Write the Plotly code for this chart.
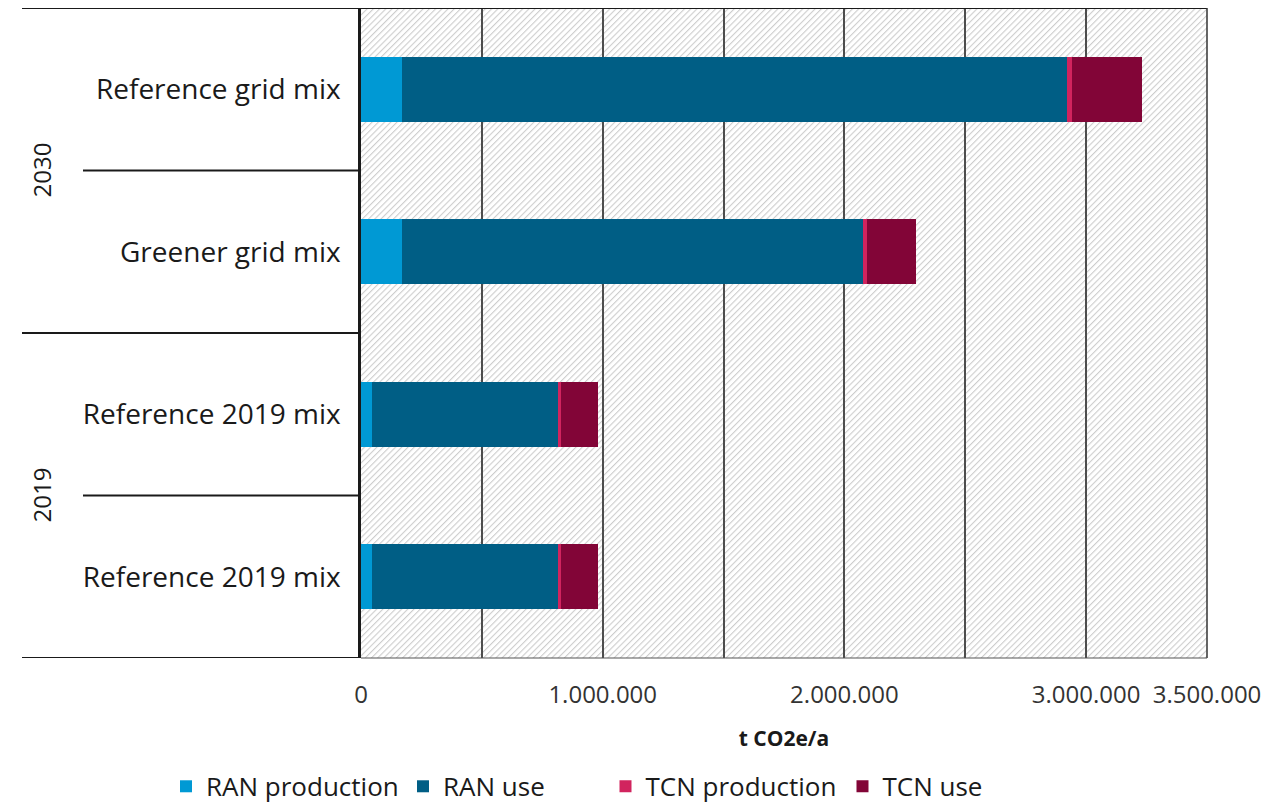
import base64
import plotly.graph_objects as go

# Emissions per scenario, t CO2e/a
years = ["2030", "2030", "2019", "2019"]
scenarios = ["Reference grid mix", "Greener grid mix", "Reference 2019 mix", "Reference 2019 mix"]
ran_production = [170000, 170000, 45000, 45000]
ran_use = [2751000, 1908000, 770000, 770000]
tcn_production = [21000, 15000, 11000, 11000]
tcn_use = [287000, 202000, 156000, 156000]

series_names = ["RAN production", "RAN use", "TCN production", "TCN use"]
series_colors = ["#0099D4", "#005E85", "#D1245E", "#820537"]
series_legends = ["legend", "legend", "legend2", "legend2"]

x_tick_values = [0, 1000000, 2000000, 3000000, 3500000]
x_tick_labels = ["0", "1.000.000", "2.000.000", "3.000.000", "3.500.000"]

FONT = "Open Sans"
W, H = 1284, 805
M_L, M_R, M_T, M_B = 361, 77, 8, 147
PW, PH = W - M_L - M_R, H - M_T - M_B

positions = list(range(len(scenarios)))

fig = go.Figure()
for name, color, values, lg in zip(series_names, series_colors,
                                   [ran_production, ran_use, tcn_production, tcn_use],
                                   series_legends):
    fig.add_trace(go.Bar(
        x=values, y=positions, name=name, orientation="h",
        marker=dict(color=color, line=dict(width=0)),
        width=0.4, legend=lg,
    ))

# Diagonal hatch filling the plotting area
hatch_svg = f"""<svg xmlns='http://www.w3.org/2000/svg' width='{PW}' height='{PH}' viewBox='0 0 {PW} {PH}' preserveAspectRatio='none'>
<defs><pattern id='h' patternUnits='userSpaceOnUse' width='4.4' height='4.4' patternTransform='rotate(45)'>
<rect width='4.4' height='4.4' fill='white'/>
<line x1='0' y1='0' x2='0' y2='4.4' stroke='#cdcdcd' stroke-width='2.2'/></pattern></defs>
<rect width='{PW}' height='{PH}' fill='url(#h)'/></svg>"""
hatch_uri = "data:image/svg+xml;base64," + base64.b64encode(hatch_svg.encode()).decode()
fig.add_layout_image(dict(
    source=hatch_uri, xref="paper", yref="paper", x=0, y=1, sizex=1, sizey=1,
    xanchor="left", yanchor="top", sizing="stretch", layer="below",
))

# Row dividers in the label column: long at year boundaries, short within a year
x_long = (22 - M_L) / PW
x_short = (83 - M_L) / PW
n = len(scenarios)
for k in range(n + 1):
    boundary = k - 0.5
    is_group_edge = k == 0 or k == n or years[k] != years[k - 1]
    x0 = x_long if is_group_edge else x_short
    x1 = 1 if k == 0 else 0
    fig.add_shape(type="line", xref="paper", yref="y", x0=x0, x1=x1,
                  y0=boundary, y1=boundary, line=dict(color="#1a1a1a", width=2))

# Right and bottom frame of the plotting area
fig.add_shape(type="line", xref="paper", yref="paper", x0=1, x1=1, y0=0, y1=1,
              line=dict(color="#333333", width=1.5))
fig.add_shape(type="line", xref="paper", yref="paper", x0=0, x1=1, y0=0, y1=0,
              line=dict(color="#555555", width=1.2))

# Year group labels, rotated, centred on their rows
for yr in dict.fromkeys(years):
    idx = [i for i, y in enumerate(years) if y == yr]
    fig.add_annotation(text=yr, xref="paper", yref="y",
                       x=(41 - M_L) / PW, y=sum(idx) / len(idx),
                       xanchor="center", yanchor="middle",
                       textangle=-90, showarrow=False,
                       font=dict(family=FONT, size=24, color="#1a1a1a"))

legend_common = dict(
    orientation="h", xanchor="left", y=-0.1975, yanchor="middle",
    font=dict(family=FONT, size=26, color="#1a1a1a"),
    entrywidth=192, entrywidthmode="pixels",
    traceorder="normal", itemclick=False, bgcolor="rgba(0,0,0,0)",
)

fig.update_layout(
    width=W, height=H,
    margin=dict(l=M_L, r=M_R, t=M_T, b=M_B, autoexpand=False),
    barmode="stack",
    paper_bgcolor="white",
    plot_bgcolor="rgba(0,0,0,0)",
    font=dict(family=FONT, color="#1a1a1a"),
    showlegend=True,
    legend=dict(x=-0.2305, **legend_common),
    legend2=dict(x=0.289, **legend_common),
    xaxis=dict(
        range=[0, 3500000],
        tickmode="array", tickvals=x_tick_values, ticktext=x_tick_labels,
        tickfont=dict(family=FONT, size=24, color="#333333"),
        ticks="", ticklabelstandoff=20,
        showgrid=True, gridcolor="#4d4d4d", gridwidth=1.5,
        minor=dict(tickmode="linear", tick0=0, dtick=500000, showgrid=True,
                   gridcolor="#4d4d4d", gridwidth=1.5),
        zeroline=False, showline=False,
        title=dict(text="<b>t CO2e/a</b>", standoff=22,
                   font=dict(family=FONT, size=21, color="#1a1a1a")),
    ),
    yaxis=dict(
        range=[n - 0.5, -0.5],
        tickmode="array", tickvals=positions, ticktext=scenarios,
        tickfont=dict(family=FONT, size=28, color="#1a1a1a"),
        ticks="", ticklabelstandoff=12,
        showgrid=False, zeroline=False,
        showline=True, linecolor="#1a1a1a", linewidth=2.5,
    ),
)

fig.write_html("out.html")
